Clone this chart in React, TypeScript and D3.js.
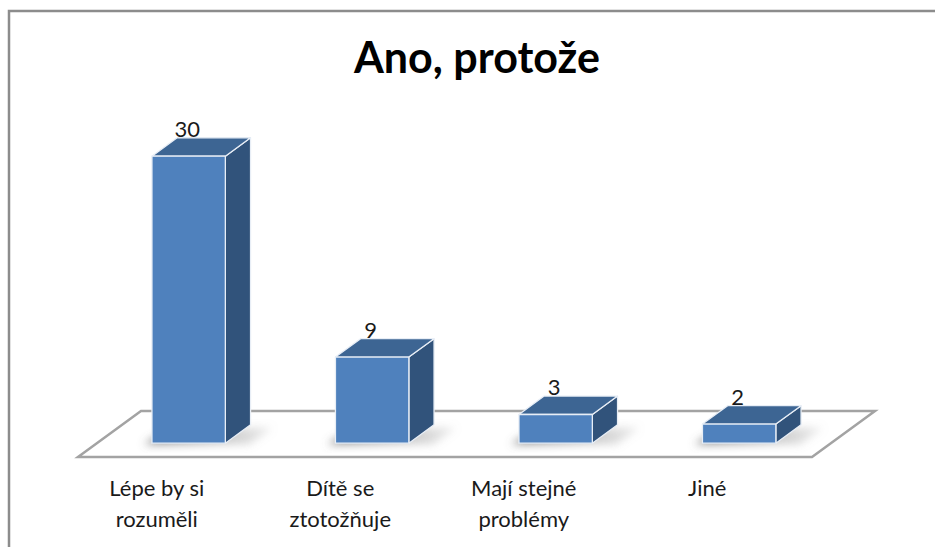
import React from "react";
import * as d3 from "d3";

const title = "Ano, protože";
const categories = ["Lépe by si rozuměli", "Dítě se ztotožňuje", "Mají stejné problémy", "Jiné"];
const categoryLines = [["Lépe by si", "rozuměli"], ["Dítě se", "ztotožňuje"], ["Mají stejné", "problémy"], ["Jiné"]];
const values = [30, 9, 3, 2];

const W = 935, H = 547;
const FRONT_Y = 457;
const FLOOR_X0 = 78, FLOOR_X1 = 812;
const DEPTH = { x: 63, y: -46 };
const BAR_D0 = 0.3, BAR_D1 = 0.7;
const FONT = "Lato, 'Open Sans', sans-serif";

export default function App() {
  const x = d3.scaleBand<string>().domain(categories).range([FLOOR_X0, FLOOR_X1]).paddingInner(0.6).paddingOuter(0.3);
  const y = d3.scaleLinear().domain([0, 30]).range([0, 287]);
  const bw = x.bandwidth();
  const off = (t: number) => ({ x: DEPTH.x * t, y: DEPTH.y * t });
  const o0 = off(BAR_D0), o1 = off(BAR_D1);
  const bd = { x: o1.x - o0.x, y: o1.y - o0.y };
  const pts = (p: [number, number][]) => p.map((q) => q.join(",")).join(" ");

  const floor: [number, number][] = [
    [FLOOR_X0, FRONT_Y],
    [FLOOR_X1, FRONT_Y],
    [FLOOR_X1 + DEPTH.x, FRONT_Y + DEPTH.y],
    [FLOOR_X0 + DEPTH.x, FRONT_Y + DEPTH.y],
  ];

  return (
    <svg width={W} height={H} style={{ position: "absolute", left: 0, top: 0 }}>
      <defs>
        <filter id="blur" x="-50%" y="-50%" width="200%" height="200%">
          <feGaussianBlur stdDeviation="4" />
        </filter>
        <linearGradient id="shadowGrad" x1="0" y1="0" x2="1" y2="0">
          <stop offset="0" stopColor="#6a6a6a" stopOpacity="0.85" />
          <stop offset="1" stopColor="#9a9a9a" stopOpacity="0.2" />
        </linearGradient>
      </defs>
      <rect x={0} y={0} width={W} height={H} fill="#fff" />
      <rect x={9} y={11} width={940} height={560} fill="#fff" stroke="#8c8c8c" strokeWidth={2.5} />
      <text x={477} y={73} textAnchor="middle" fontFamily={FONT} fontWeight="bold" fontSize={43} fill="#000">
        {title}
      </text>
      <polygon points={pts(floor)} fill="#fff" stroke="#a3a3a3" strokeWidth={2.5} strokeLinejoin="miter" />
      {categories.map((c, i) => {
        const fx = (x(c) as number) + o0.x;
        const fy = FRONT_Y + o0.y;
        const h = y(values[i]);
        const top = fy - h;
        const front: [number, number][] = [[fx, top], [fx + bw, top], [fx + bw, fy], [fx, fy]];
        const topFace: [number, number][] = [[fx, top], [fx + bw, top], [fx + bw + bd.x, top + bd.y], [fx + bd.x, top + bd.y]];
        const side: [number, number][] = [[fx + bw, top], [fx + bw + bd.x, top + bd.y], [fx + bw + bd.x, fy + bd.y], [fx + bw, fy]];
        const shadow: [number, number][] = [
          [fx - 8, fy + 1],
          [fx + bw + 24, fy + 1],
          [fx + bw + bd.x + 22, fy + bd.y + 3],
          [fx + bd.x - 6, fy + bd.y + 3],
        ];
        return (
          <g key={c}>
            <polygon points={pts(shadow)} fill="url(#shadowGrad)" filter="url(#blur)" />
            <polygon points={pts(side)} fill="#31537b" stroke="#e8eef6" strokeWidth={1.3} strokeLinejoin="round" />
            <polygon points={pts(topFace)} fill="#3d6593" stroke="#e8eef6" strokeWidth={1.3} strokeLinejoin="round" />
            <polygon points={pts(front)} fill="#4f81bd" stroke="#e8eef6" strokeWidth={1.3} strokeLinejoin="round" />
            <text x={fx + bw / 2 - 1.5} y={top - 19.5} textAnchor="middle" fontFamily={FONT} fontSize={22} fill="#1a1a1a">
              {values[i]}
            </text>
          </g>
        );
      })}
      {categories.map((c, i) => {
        const cx = (x(c) as number) + bw / 2 - 13;
        return (
          <text key={c} textAnchor="middle" fontFamily={FONT} fontSize={22} fill="#1a1a1a">
            {categoryLines[i].map((ln, j) => (
              <tspan key={j} x={cx} y={496 + j * 31}>{ln}</tspan>
            ))}
          </text>
        );
      })}
    </svg>
  );
}
